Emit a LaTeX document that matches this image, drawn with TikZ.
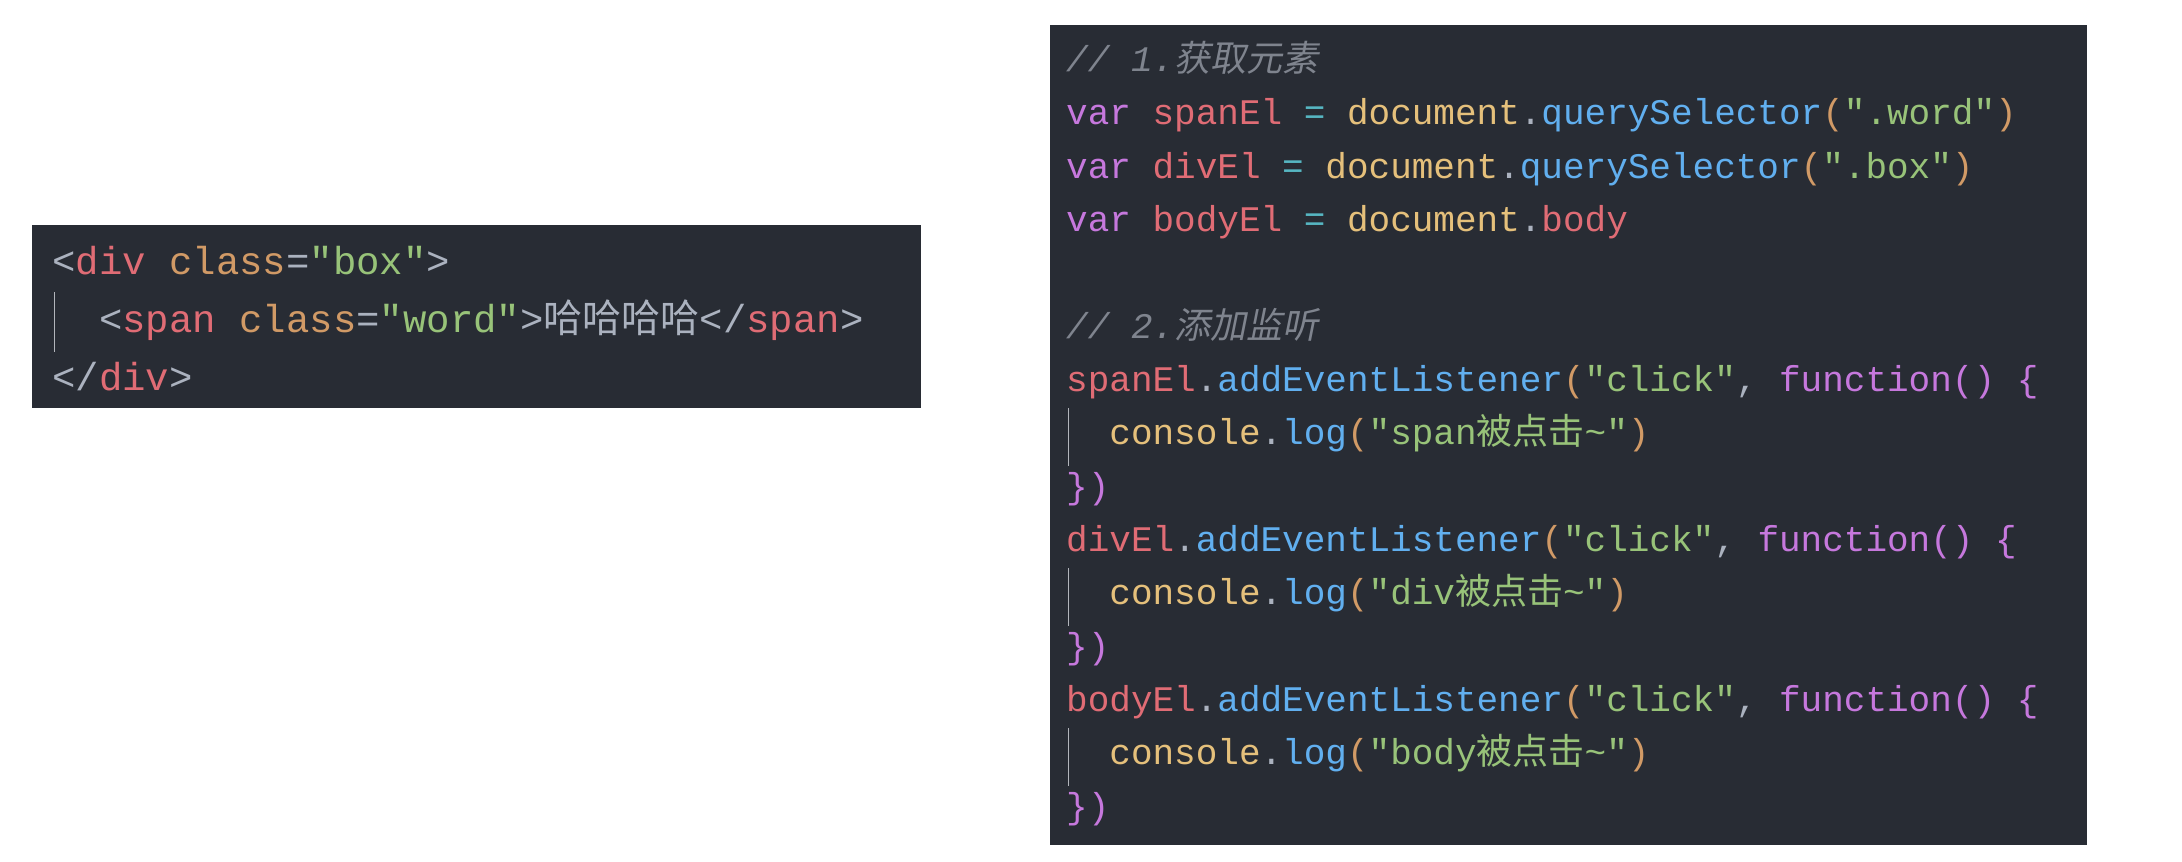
\documentclass[tikz,border=0pt]{standalone}
\usepackage{fontspec}
\setmonofont{Liberation Mono}
\newfontfamily\cjk{Noto Sans CJK SC}
\newfontfamily\cjkit[FakeSlant=0.2]{Noto Sans CJK SC}
\definecolor{editorbg}{HTML}{282C34}
\definecolor{tagred}{HTML}{E06C75}
\definecolor{attrorange}{HTML}{D19A66}
\definecolor{strgreen}{HTML}{98C379}
\definecolor{kwpurple}{HTML}{C678DD}
\definecolor{fnblue}{HTML}{61AFEF}
\definecolor{objyellow}{HTML}{E5C07B}
\definecolor{opcyan}{HTML}{56B6C2}
\definecolor{plaingray}{HTML}{ABB2BF}
\definecolor{commentgray}{HTML}{7F848E}
\newcommand{\rd}[1]{\textcolor{tagred}{#1}}
\newcommand{\og}[1]{\textcolor{attrorange}{#1}}
\newcommand{\gn}[1]{\textcolor{strgreen}{#1}}
\newcommand{\pu}[1]{\textcolor{kwpurple}{#1}}
\newcommand{\bl}[1]{\textcolor{fnblue}{#1}}
\newcommand{\yl}[1]{\textcolor{objyellow}{#1}}
\newcommand{\cy}[1]{\textcolor{opcyan}{#1}}
\newcommand{\pl}[1]{\textcolor{plaingray}{#1}}
\newcommand{\cm}[1]{\textcolor{commentgray}{\itshape #1}}
\begin{document}
\begin{tikzpicture}[x=1pt,y=-1pt,
    codeline/.style ={anchor=base west, inner sep=0pt, text=plaingray,
      font=\ttfamily\fontsize{36}{36}\selectfont},
    htmlline/.style ={codeline, font=\ttfamily\fontsize{39}{39}\selectfont},
    guide/.style ={draw=commentgray!60, line width=1pt}]
   \useasboundingbox (0,0) rectangle (2182,862);
   \fill[editorbg] (32,225) rectangle (921,408);
   \fill[editorbg] (1050,25) rectangle (2087,845);

   \node[htmlline] (h1) at (52,274) {\pl{<}\rd{div} \og{class}\pl{=}\gn{"box"}\pl{>}};
   \node[htmlline] (h2) at (52,332) {\phantom{xx}\pl{<}\rd{span} \og{class}\pl{=}\gn{"word"}\pl{>}{\cjk 哈哈哈哈}\pl{</}\rd{span}\pl{>}};
   \node[htmlline] (h3) at (52,390) {\pl{</}\rd{div}\pl{>}};
   \draw[guide] (54,292) -- (54,352);

   \node[codeline] (c1) at (1066,71) {\cm{// 1.{\cjkit 获取元素}}};
   \node[codeline] (c2) at (1066,124) {\pu{var} \rd{spanEl} \cy{=} \yl{document}\pl{.}\bl{querySelector}\og{(}\gn{".word"}\og{)}};
   \node[codeline] (c3) at (1066,178) {\pu{var} \rd{divEl} \cy{=} \yl{document}\pl{.}\bl{querySelector}\og{(}\gn{".box"}\og{)}};
   \node[codeline] (c4) at (1066,231) {\pu{var} \rd{bodyEl} \cy{=} \yl{document}\pl{.}\rd{body}};
   \node[codeline] (c5) at (1066,338) {\cm{// 2.{\cjkit 添加监听}}};
   \node[codeline] (c6) at (1066,391) {\rd{spanEl}\pl{.}\bl{addEventListener}\og{(}\gn{"click"}\pl{,} \pu{function()} \pu{\{}};
   \node[codeline] (c7) at (1066,444) {\phantom{xx}\yl{console}\pl{.}\bl{log}\og{(}\gn{"span{\cjk 被点击}\textasciitilde"}\og{)}};
   \node[codeline] (c8) at (1066,498) {\pu{\})}};
   \node[codeline] (c9) at (1066,551) {\rd{divEl}\pl{.}\bl{addEventListener}\og{(}\gn{"click"}\pl{,} \pu{function()} \pu{\{}};
   \node[codeline] (c10) at (1066,604) {\phantom{xx}\yl{console}\pl{.}\bl{log}\og{(}\gn{"div{\cjk 被点击}\textasciitilde"}\og{)}};
   \node[codeline] (c11) at (1066,658) {\pu{\})}};
   \node[codeline] (c12) at (1066,711) {\rd{bodyEl}\pl{.}\bl{addEventListener}\og{(}\gn{"click"}\pl{,} \pu{function()} \pu{\{}};
   \node[codeline] (c13) at (1066,764) {\phantom{xx}\yl{console}\pl{.}\bl{log}\og{(}\gn{"body{\cjk 被点击}\textasciitilde"}\og{)}};
   \node[codeline] (c14) at (1066,818) {\pu{\})}};
   \draw[guide] (1068,408) -- (1068,466);
   \draw[guide] (1068,568) -- (1068,626);
   \draw[guide] (1068,728) -- (1068,786);
 \end{tikzpicture}
\end{document}
